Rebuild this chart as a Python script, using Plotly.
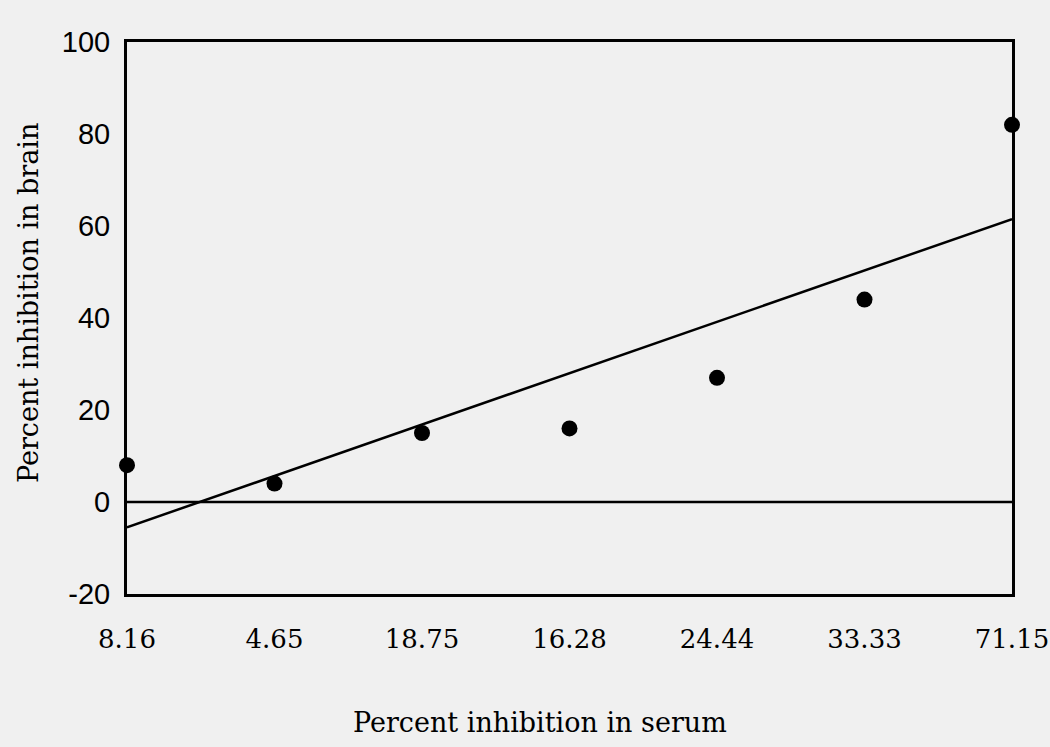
import plotly.graph_objects as go

# Data
serum_labels = ["8.16", "4.65", "18.75", "16.28", "24.44", "33.33", "71.15"]
brain_values = [8, 4, 15, 16, 27, 44, 82]

# Fitted regression line end points (as drawn in the reference)
fit_x = ["8.16", "71.15"]
fit_y = [-5.5, 61.5]

# Zero reference line
zero_x = ["8.16", "71.15"]
zero_y = [0, 0]

y_ticks = [-20, 0, 20, 40, 60, 80, 100]
y_tick_text = ["-20", "0", "20", "40", "60", "80", "100"]

x_title = "Percent inhibition in serum"
y_title = "Percent inhibition in brain"

bg = "#f0f0f0"
serif = "DejaVu Serif"
sans = "Liberation Sans"

fig = go.Figure()

fig.add_trace(go.Scatter(
    x=zero_x, y=zero_y, mode="lines",
    line=dict(color="black", width=2.5), showlegend=False, hoverinfo="skip"))

fig.add_trace(go.Scatter(
    x=fit_x, y=fit_y, mode="lines",
    line=dict(color="black", width=2.5), showlegend=False, hoverinfo="skip"))

fig.add_trace(go.Scatter(
    x=serum_labels, y=brain_values, mode="markers",
    marker=dict(color="black", size=16), showlegend=False, cliponaxis=False))

fig.update_layout(
    width=1050, height=747,
    margin=dict(l=127, r=38, t=42, b=153, autoexpand=False),
    paper_bgcolor=bg, plot_bgcolor=bg,
    font=dict(family=serif, color="black"),
    annotations=[
        dict(text=x_title, xref="paper", yref="paper", x=0.467, y=-0.232,
             xanchor="center", yanchor="middle", showarrow=False,
             font=dict(family=serif, size=27, color="black")),
        dict(text=y_title, xref="paper", yref="paper", x=-0.112, y=0.527,
             xanchor="center", yanchor="middle", showarrow=False, textangle=-90,
             font=dict(family=serif, size=27, color="black")),
    ],
)

fig.update_xaxes(
    type="category", categoryorder="array", categoryarray=serum_labels,
    range=[0, 6], showgrid=False, zeroline=False,
    showline=True, linecolor="black", linewidth=3, mirror=True,
    ticks="", ticklabelstandoff=20,
    tickfont=dict(family=serif, size=26, color="black"),
    automargin=False,
)

fig.update_yaxes(
    range=[-20, 100], tickvals=y_ticks, ticktext=y_tick_text,
    showgrid=False, zeroline=False,
    showline=True, linecolor="black", linewidth=3, mirror=True,
    ticks="", ticklabelstandoff=8,
    tickfont=dict(family=sans, size=29, color="black"),
    automargin=False,
)

fig.write_html("out.html")
